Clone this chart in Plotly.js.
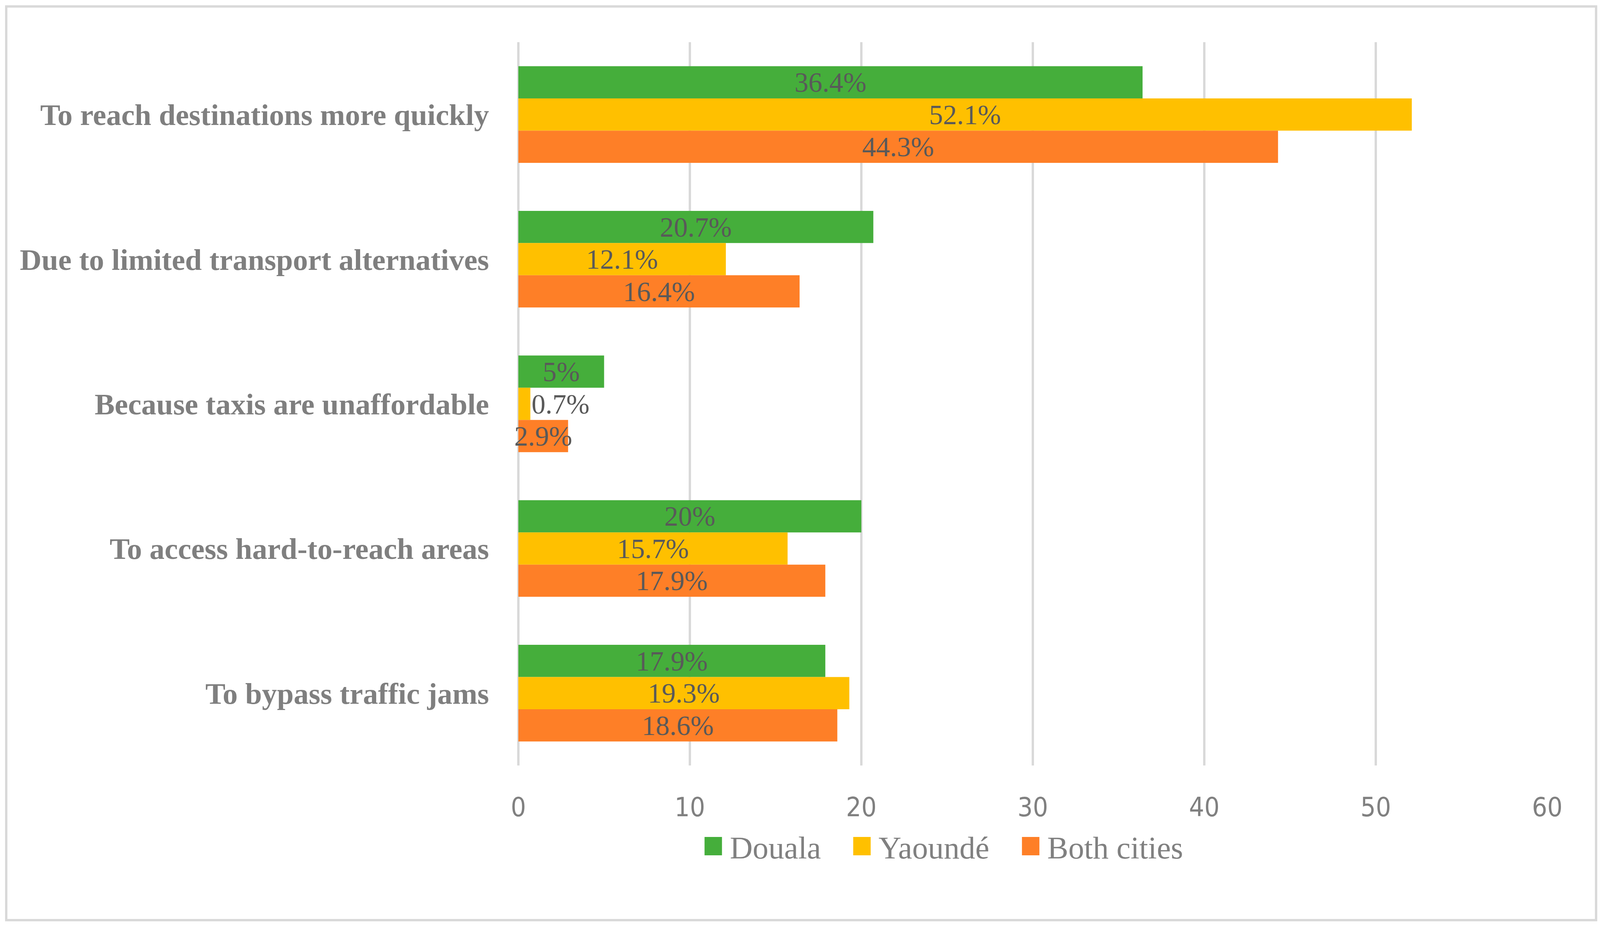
<!DOCTYPE html>
<html>
<head>
<meta charset="utf-8">
<script src="https://cdn.plot.ly/plotly-3.0.1.min.js"></script>
<style>
  html, body { margin: 0; padding: 0; background: #ffffff; overflow: hidden; }
</style>
</head>
<body>
<div id="chart"></div>
<script>
// Categories (top to bottom)
const categories = [
  "To reach destinations more quickly",
  "Due to limited transport alternatives",
  "Because taxis are unaffordable",
  "To access hard-to-reach areas",
  "To bypass traffic jams"
];
const seriesNames = ["Douala", "Yaoundé", "Both cities"];
const douala = [36.4, 20.7, 5, 20, 17.9];
const yaounde = [52.1, 12.1, 0.7, 15.7, 19.3];
const bothCities = [44.3, 16.4, 2.9, 17.9, 18.6];
const xTickValues = [0, 10, 20, 30, 40, 50, 60];

const colors = ["#45AE3B", "#FFC000", "#FE7F27"];
const seriesValues = [douala, yaounde, bothCities];

// reference design is 4310 x 2371 px; fit it to the actual viewport
const W0 = 4310, H0 = 2371;
const VW = window.innerWidth || W0, VH = window.innerHeight || H0;
const sx = VW / W0, sy = VH / H0;
const SX = (v) => v * sx, SY = (v) => v * sy;
const F = (v) => v * sx;   // font scale

const L = 1396.5, R = 4168, T = 108, B = 1960;
const pw = R - L, ph = B - T;
const px = (x) => (x - L) / pw;
const py = (y) => (B - y) / ph;

const labelFont = { family: "Liberation Serif, DejaVu Serif, serif", size: F(75), color: "#595959" };
const legendFont = { family: "Liberation Serif, DejaVu Serif, serif", size: F(85), color: "#808080" };
const legendIds = ["legend", "legend2", "legend3"];
const legendSymbolCenters = [1921.5, 2322, 2776.5];
const itemW = SX(79);

const traces = seriesValues.map((vals, i) => ({
  type: "bar",
  orientation: "h",
  name: seriesNames[i],
  legend: legendIds[i],
  y: categories,
  x: vals,
  marker: { color: colors[i], line: { width: 0 } },
  texttemplate: "%{x}%",
  textposition: vals.map(v => (v < 2 ? "outside" : "inside")),
  insidetextanchor: "middle",
  textangle: 0,
  constraintext: "none",
  cliponaxis: false,
  textfont: labelFont,
  insidetextfont: labelFont,
  outsidetextfont: labelFont,
  hoverinfo: "skip"
}));

const layout = {
  width: VW,
  height: VH,
  margin: { l: SX(L), r: SX(W0 - R), t: SY(T), b: SY(H0 - B), pad: 0 },
  paper_bgcolor: "#ffffff",
  plot_bgcolor: "#ffffff",
  barmode: "group",
  bargap: 0.332,
  bargroupgap: 0,
  showlegend: true,
  xaxis: {
    range: [0, 60],
    tickvals: xTickValues,
    ticktext: xTickValues.map(String),
    showgrid: true,
    gridcolor: "#D9D9D9",
    gridwidth: SX(7),
    zeroline: true,
    zerolinecolor: "#D9D9D9",
    zerolinewidth: SX(7),
    showline: false,
    ticks: "",
    ticklabelstandoff: Math.round(SY(61)),
    tickfont: { family: "Liberation Sans Narrow, DejaVu Sans Condensed, Noto Sans, sans-serif", size: F(72), color: "#808080" },
    fixedrange: true
  },
  yaxis: {
    type: "category",
    autorange: "reversed",
    showgrid: false,
    zeroline: false,
    showline: false,
    ticks: "",
    ticklabelstandoff: Math.round(SX(78)),
    tickfont: { family: "Liberation Serif, DejaVu Serif, serif", size: F(81), color: "#7F7F7F", weight: "bold" },
    fixedrange: true
  },
  shapes: [
    {
      type: "rect",
      xref: "paper", yref: "paper",
      x0: px(17), x1: px(4299.5),
      y0: py(2356), y1: py(16.5),
      line: { color: "#D9D9D9", width: 6 },
      fillcolor: "rgba(0,0,0,0)",
      layer: "below"
    }
  ]
};

legendIds.forEach((id, i) => {
  layout[id] = {
    orientation: "h",
    x: px(legendSymbolCenters[i] - (79 / 2 + 5 / sx)),
    xanchor: "left",
    y: py(2167),
    yanchor: "middle",
    font: legendFont,
    itemwidth: itemW,
    bgcolor: "rgba(0,0,0,0)",
    borderwidth: 0
  };
});

Plotly.newPlot("chart", traces, layout, { staticPlot: true, responsive: false, displayModeBar: false }).then(() => {
  const hx = SX(23.5), hy = SY(23.5);
  document.querySelectorAll("#chart .legendpoints path").forEach(p => {
    p.setAttribute("d", `M${hx},${hy}H${-hx}V${-hy}H${hx}Z`);
  });
});
</script>
</body>
</html>
